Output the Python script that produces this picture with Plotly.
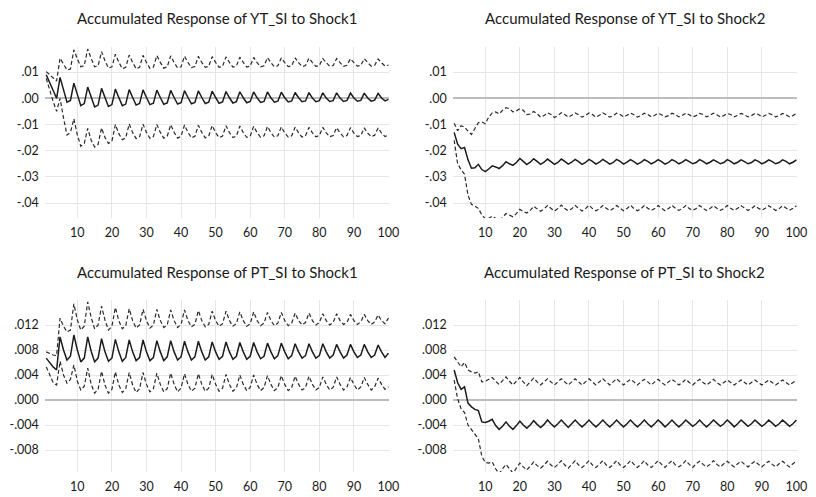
import plotly.graph_objects as go

# ---------------------------------------------------------------------------
# Accumulated impulse responses (point estimate and +/- 2 S.E. bands),
# horizons 1..100
# ---------------------------------------------------------------------------
periods = list(range(1, 101))
x_ticks = [10, 20, 30, 40, 50, 60, 70, 80, 90, 100]

top_tickvals = [0.01, 0.0, -0.01, -0.02, -0.03, -0.04]
top_ticktext = [".01", ".00", "-.01", "-.02", "-.03", "-.04"]
bot_tickvals = [0.012, 0.008, 0.004, 0.0, -0.004, -0.008]
bot_ticktext = [".012", ".008", ".004", ".000", "-.004", "-.008"]

titles = [
    "Accumulated Response of YT_SI to Shock1",
    "Accumulated Response of YT_SI to Shock2",
    "Accumulated Response of PT_SI to Shock1",
    "Accumulated Response of PT_SI to Shock2",
]

# YT_SI to Shock1
yt_s1_irf = [
    0.0090, 0.0062, 0.0030, 0.0000,
    0.0080, 0.0030, -0.0015, -0.0008,
    0.0058, 0.0015, -0.0028, -0.0020,
    0.0043, 0.0005, -0.0033, -0.0026,
    0.0038, 0.0003, -0.0031, -0.0024,
    0.0035, 0.0003, -0.0028, -0.0022,
    0.0033, 0.0003, -0.0026, -0.0020,
    0.0032, 0.0003, -0.0024, -0.0019,
    0.0031, 0.0003, -0.0023, -0.0018,
    0.0030, 0.0003, -0.0022, -0.0017,
    0.0029, 0.0003, -0.0021, -0.0016,
    0.0028, 0.0003, -0.0020, -0.0015,
    0.0027, 0.0003, -0.0019, -0.0014,
    0.0026, 0.0002, -0.0018, -0.0013,
    0.0025, 0.0002, -0.0017, -0.0012,
    0.0024, 0.0002, -0.0016, -0.0012,
    0.0024, 0.0002, -0.0015, -0.0011,
    0.0023, 0.0002, -0.0014, -0.0010,
    0.0022, 0.0002, -0.0013, -0.0010,
    0.0022, 0.0001, -0.0013, -0.0009,
    0.0021, 0.0001, -0.0012, -0.0009,
    0.0021, 0.0001, -0.0012, -0.0008,
    0.0020, 0.0001, -0.0011, -0.0008,
    0.0020, 0.0001, -0.0011, -0.0007,
    0.0019, 0.0001, -0.0010, -0.0004,
]
yt_s1_hi = [
    0.0102, 0.0090, 0.0077, 0.0066,
    0.0153, 0.0128, 0.0108, 0.0112,
    0.0185, 0.0150, 0.0120, 0.0125,
    0.0188, 0.0152, 0.0120, 0.0124,
    0.0178, 0.0143, 0.0115, 0.0120,
    0.0168, 0.0138, 0.0113, 0.0118,
    0.0165, 0.0137, 0.0113, 0.0118,
    0.0164, 0.0137, 0.0114, 0.0119,
    0.0163, 0.0137, 0.0115, 0.0120,
    0.0162, 0.0137, 0.0116, 0.0120,
    0.0161, 0.0137, 0.0117, 0.0121,
    0.0160, 0.0137, 0.0118, 0.0122,
    0.0159, 0.0137, 0.0118, 0.0122,
    0.0158, 0.0137, 0.0119, 0.0123,
    0.0157, 0.0137, 0.0119, 0.0123,
    0.0156, 0.0136, 0.0120, 0.0124,
    0.0155, 0.0136, 0.0120, 0.0124,
    0.0154, 0.0136, 0.0121, 0.0124,
    0.0154, 0.0136, 0.0121, 0.0125,
    0.0153, 0.0136, 0.0122, 0.0125,
    0.0152, 0.0136, 0.0122, 0.0125,
    0.0152, 0.0136, 0.0122, 0.0126,
    0.0151, 0.0136, 0.0123, 0.0126,
    0.0151, 0.0136, 0.0123, 0.0126,
    0.0150, 0.0136, 0.0123, 0.0127,
]
yt_s1_lo = [
    0.0076, 0.0030, -0.0012, -0.0050,
    0.0000, -0.0075, -0.0140, -0.0130,
    -0.0078, -0.0140, -0.0183, -0.0172,
    -0.0115, -0.0160, -0.0186, -0.0176,
    -0.0113, -0.0150, -0.0172, -0.0164,
    -0.0100, -0.0135, -0.0158, -0.0151,
    -0.0098, -0.0131, -0.0154, -0.0147,
    -0.0099, -0.0130, -0.0153, -0.0146,
    -0.0100, -0.0130, -0.0152, -0.0145,
    -0.0101, -0.0130, -0.0152, -0.0145,
    -0.0102, -0.0130, -0.0151, -0.0145,
    -0.0103, -0.0130, -0.0151, -0.0144,
    -0.0104, -0.0131, -0.0150, -0.0144,
    -0.0105, -0.0131, -0.0150, -0.0144,
    -0.0106, -0.0131, -0.0149, -0.0144,
    -0.0107, -0.0131, -0.0149, -0.0143,
    -0.0108, -0.0131, -0.0148, -0.0143,
    -0.0109, -0.0132, -0.0148, -0.0143,
    -0.0110, -0.0132, -0.0148, -0.0143,
    -0.0111, -0.0132, -0.0147, -0.0142,
    -0.0111, -0.0132, -0.0147, -0.0142,
    -0.0112, -0.0132, -0.0147, -0.0142,
    -0.0112, -0.0133, -0.0146, -0.0142,
    -0.0113, -0.0133, -0.0146, -0.0141,
    -0.0113, -0.0133, -0.0146, -0.0140,
]

# YT_SI to Shock2
yt_s2_irf = [
    -0.0130, -0.0175, -0.0192, -0.0188,
    -0.0235, -0.0267, -0.0265, -0.0252,
    -0.0272, -0.0280, -0.0270, -0.0258,
    -0.0262, -0.0268, -0.0257, -0.0242,
    -0.0250, -0.0256, -0.0245, -0.0230,
    -0.0241, -0.0253, -0.0244, -0.0231,
    -0.0241, -0.0252, -0.0244, -0.0232,
    -0.0242, -0.0252, -0.0245, -0.0232,
    -0.0241, -0.0251, -0.0244, -0.0233,
    -0.0242, -0.0252, -0.0245, -0.0233,
    -0.0241, -0.0251, -0.0244, -0.0233,
    -0.0242, -0.0251, -0.0245, -0.0233,
    -0.0241, -0.0251, -0.0244, -0.0234,
    -0.0242, -0.0251, -0.0245, -0.0234,
    -0.0241, -0.0250, -0.0244, -0.0234,
    -0.0242, -0.0251, -0.0245, -0.0234,
    -0.0241, -0.0250, -0.0244, -0.0234,
    -0.0242, -0.0250, -0.0245, -0.0234,
    -0.0241, -0.0250, -0.0244, -0.0235,
    -0.0242, -0.0250, -0.0245, -0.0234,
    -0.0241, -0.0250, -0.0244, -0.0235,
    -0.0242, -0.0250, -0.0245, -0.0235,
    -0.0241, -0.0250, -0.0244, -0.0235,
    -0.0242, -0.0250, -0.0245, -0.0235,
    -0.0241, -0.0250, -0.0244, -0.0235,
]
yt_s2_hi = [
    -0.0095, -0.0124, -0.0105, -0.0110,
    -0.0125, -0.0138, -0.0115, -0.0093,
    -0.0090, -0.0097, -0.0072, -0.0056,
    -0.0052, -0.0060, -0.0046, -0.0036,
    -0.0040, -0.0052, -0.0048, -0.0040,
    -0.0046, -0.0062, -0.0060, -0.0050,
    -0.0059, -0.0072, -0.0066, -0.0055,
    -0.0062, -0.0073, -0.0066, -0.0055,
    -0.0062, -0.0072, -0.0065, -0.0056,
    -0.0063, -0.0072, -0.0066, -0.0056,
    -0.0062, -0.0072, -0.0065, -0.0056,
    -0.0063, -0.0072, -0.0066, -0.0057,
    -0.0062, -0.0071, -0.0065, -0.0056,
    -0.0063, -0.0072, -0.0066, -0.0057,
    -0.0062, -0.0071, -0.0065, -0.0057,
    -0.0063, -0.0071, -0.0066, -0.0057,
    -0.0062, -0.0071, -0.0065, -0.0057,
    -0.0063, -0.0071, -0.0066, -0.0058,
    -0.0062, -0.0071, -0.0065, -0.0057,
    -0.0063, -0.0071, -0.0066, -0.0058,
    -0.0062, -0.0071, -0.0065, -0.0058,
    -0.0063, -0.0071, -0.0066, -0.0058,
    -0.0062, -0.0071, -0.0065, -0.0058,
    -0.0063, -0.0071, -0.0066, -0.0058,
    -0.0063, -0.0071, -0.0066, -0.0058,
]
yt_s2_lo = [
    -0.0160, -0.0250, -0.0272, -0.0290,
    -0.0370, -0.0405, -0.0412, -0.0420,
    -0.0445, -0.0460, -0.0458, -0.0450,
    -0.0458, -0.0466, -0.0455, -0.0440,
    -0.0446, -0.0452, -0.0440, -0.0424,
    -0.0432, -0.0438, -0.0428, -0.0412,
    -0.0422, -0.0431, -0.0422, -0.0409,
    -0.0420, -0.0430, -0.0421, -0.0408,
    -0.0421, -0.0429, -0.0422, -0.0409,
    -0.0420, -0.0430, -0.0421, -0.0408,
    -0.0421, -0.0429, -0.0422, -0.0409,
    -0.0420, -0.0429, -0.0421, -0.0409,
    -0.0420, -0.0429, -0.0421, -0.0408,
    -0.0421, -0.0429, -0.0422, -0.0409,
    -0.0420, -0.0428, -0.0421, -0.0409,
    -0.0420, -0.0429, -0.0421, -0.0409,
    -0.0420, -0.0428, -0.0421, -0.0409,
    -0.0421, -0.0428, -0.0421, -0.0409,
    -0.0420, -0.0428, -0.0421, -0.0410,
    -0.0420, -0.0428, -0.0421, -0.0409,
    -0.0420, -0.0428, -0.0420, -0.0410,
    -0.0419, -0.0428, -0.0421, -0.0410,
    -0.0420, -0.0427, -0.0420, -0.0410,
    -0.0419, -0.0428, -0.0421, -0.0410,
    -0.0419, -0.0427, -0.0420, -0.0410,
]

# PT_SI to Shock1
pt_s1_irf = [
    0.0067, 0.0060, 0.0053, 0.0048,
    0.0101, 0.0080, 0.0064, 0.0070,
    0.0104, 0.0080, 0.0061, 0.0067,
    0.0101, 0.0078, 0.0061, 0.0067,
    0.0098, 0.0077, 0.0062, 0.0067,
    0.0097, 0.0077, 0.0062, 0.0068,
    0.0096, 0.0077, 0.0063, 0.0068,
    0.0096, 0.0077, 0.0063, 0.0068,
    0.0095, 0.0077, 0.0063, 0.0069,
    0.0095, 0.0077, 0.0064, 0.0069,
    0.0094, 0.0077, 0.0064, 0.0069,
    0.0094, 0.0077, 0.0064, 0.0069,
    0.0093, 0.0077, 0.0065, 0.0070,
    0.0093, 0.0077, 0.0065, 0.0070,
    0.0092, 0.0077, 0.0065, 0.0070,
    0.0092, 0.0077, 0.0066, 0.0070,
    0.0091, 0.0077, 0.0066, 0.0071,
    0.0091, 0.0077, 0.0066, 0.0071,
    0.0090, 0.0077, 0.0067, 0.0071,
    0.0090, 0.0077, 0.0067, 0.0071,
    0.0090, 0.0077, 0.0067, 0.0072,
    0.0089, 0.0077, 0.0067, 0.0072,
    0.0089, 0.0077, 0.0068, 0.0072,
    0.0089, 0.0077, 0.0068, 0.0072,
    0.0088, 0.0077, 0.0068, 0.0075,
]
pt_s1_hi = [
    0.0077, 0.0074, 0.0072, 0.0071,
    0.0131, 0.0118, 0.0109, 0.0112,
    0.0154, 0.0128, 0.0112, 0.0118,
    0.0157, 0.0132, 0.0114, 0.0120,
    0.0150, 0.0128, 0.0112, 0.0118,
    0.0148, 0.0127, 0.0114, 0.0119,
    0.0146, 0.0127, 0.0115, 0.0120,
    0.0145, 0.0127, 0.0115, 0.0120,
    0.0145, 0.0127, 0.0116, 0.0120,
    0.0144, 0.0127, 0.0116, 0.0121,
    0.0144, 0.0127, 0.0117, 0.0121,
    0.0143, 0.0127, 0.0117, 0.0121,
    0.0142, 0.0127, 0.0118, 0.0122,
    0.0142, 0.0127, 0.0118, 0.0122,
    0.0141, 0.0127, 0.0118, 0.0122,
    0.0141, 0.0127, 0.0119, 0.0123,
    0.0140, 0.0127, 0.0119, 0.0123,
    0.0140, 0.0127, 0.0119, 0.0123,
    0.0139, 0.0127, 0.0120, 0.0124,
    0.0139, 0.0127, 0.0120, 0.0124,
    0.0138, 0.0127, 0.0120, 0.0124,
    0.0138, 0.0127, 0.0121, 0.0124,
    0.0137, 0.0127, 0.0121, 0.0125,
    0.0137, 0.0127, 0.0121, 0.0125,
    0.0136, 0.0127, 0.0122, 0.0131,
]
pt_s1_lo = [
    0.0053, 0.0040, 0.0028, 0.0024,
    0.0062, 0.0040, 0.0027, 0.0033,
    0.0056, 0.0030, 0.0016, 0.0022,
    0.0051, 0.0025, 0.0011, 0.0017,
    0.0046, 0.0024, 0.0011, 0.0017,
    0.0045, 0.0024, 0.0012, 0.0018,
    0.0044, 0.0024, 0.0012, 0.0018,
    0.0044, 0.0025, 0.0013, 0.0018,
    0.0043, 0.0025, 0.0013, 0.0018,
    0.0043, 0.0025, 0.0013, 0.0019,
    0.0042, 0.0025, 0.0014, 0.0019,
    0.0042, 0.0025, 0.0014, 0.0019,
    0.0041, 0.0025, 0.0014, 0.0019,
    0.0041, 0.0025, 0.0014, 0.0019,
    0.0040, 0.0025, 0.0015, 0.0020,
    0.0040, 0.0025, 0.0015, 0.0020,
    0.0039, 0.0025, 0.0015, 0.0020,
    0.0039, 0.0025, 0.0015, 0.0020,
    0.0038, 0.0025, 0.0016, 0.0020,
    0.0038, 0.0025, 0.0016, 0.0020,
    0.0037, 0.0025, 0.0016, 0.0020,
    0.0037, 0.0025, 0.0016, 0.0021,
    0.0036, 0.0025, 0.0016, 0.0021,
    0.0036, 0.0025, 0.0016, 0.0021,
    0.0035, 0.0025, 0.0017, 0.0021,
]

# PT_SI to Shock2
pt_s2_irf = [
    0.0048, 0.0028, 0.0017, 0.0021,
    -0.0005, -0.0011, -0.0015, -0.0017,
    -0.0035, -0.0036, -0.0034, -0.0031,
    -0.0041, -0.0047, -0.0042, -0.0035,
    -0.0042, -0.0047, -0.0041, -0.0034,
    -0.0040, -0.0045, -0.0040, -0.0033,
    -0.0039, -0.0044, -0.0039, -0.0032,
    -0.0038, -0.0043, -0.0038, -0.0032,
    -0.0038, -0.0044, -0.0038, -0.0032,
    -0.0038, -0.0043, -0.0038, -0.0032,
    -0.0038, -0.0043, -0.0038, -0.0032,
    -0.0038, -0.0043, -0.0038, -0.0032,
    -0.0038, -0.0043, -0.0038, -0.0032,
    -0.0038, -0.0043, -0.0038, -0.0032,
    -0.0038, -0.0043, -0.0038, -0.0032,
    -0.0037, -0.0043, -0.0038, -0.0032,
    -0.0038, -0.0043, -0.0038, -0.0032,
    -0.0037, -0.0042, -0.0038, -0.0032,
    -0.0038, -0.0043, -0.0038, -0.0032,
    -0.0037, -0.0042, -0.0038, -0.0032,
    -0.0037, -0.0043, -0.0038, -0.0032,
    -0.0037, -0.0042, -0.0038, -0.0032,
    -0.0037, -0.0042, -0.0038, -0.0032,
    -0.0037, -0.0042, -0.0038, -0.0032,
    -0.0037, -0.0042, -0.0038, -0.0032,
]
pt_s2_hi = [
    0.0069, 0.0061, 0.0053, 0.0060,
    0.0048, 0.0045, 0.0043, 0.0045,
    0.0029, 0.0030, 0.0033, 0.0036,
    0.0030, 0.0025, 0.0031, 0.0037,
    0.0030, 0.0024, 0.0030, 0.0036,
    0.0029, 0.0023, 0.0029, 0.0035,
    0.0029, 0.0024, 0.0029, 0.0034,
    0.0029, 0.0024, 0.0029, 0.0034,
    0.0029, 0.0024, 0.0029, 0.0034,
    0.0029, 0.0024, 0.0029, 0.0034,
    0.0029, 0.0024, 0.0029, 0.0034,
    0.0029, 0.0024, 0.0029, 0.0034,
    0.0029, 0.0024, 0.0029, 0.0033,
    0.0029, 0.0024, 0.0029, 0.0033,
    0.0029, 0.0024, 0.0029, 0.0033,
    0.0028, 0.0024, 0.0029, 0.0033,
    0.0029, 0.0024, 0.0028, 0.0033,
    0.0028, 0.0024, 0.0029, 0.0033,
    0.0028, 0.0024, 0.0028, 0.0033,
    0.0028, 0.0024, 0.0028, 0.0032,
    0.0028, 0.0024, 0.0028, 0.0032,
    0.0028, 0.0024, 0.0028, 0.0032,
    0.0028, 0.0024, 0.0028, 0.0032,
    0.0028, 0.0024, 0.0028, 0.0032,
    0.0028, 0.0024, 0.0028, 0.0031,
]
pt_s2_lo = [
    0.0032, 0.0002, -0.0014, -0.0020,
    -0.0040, -0.0048, -0.0055, -0.0062,
    -0.0090, -0.0100, -0.0101, -0.0099,
    -0.0110, -0.0118, -0.0110, -0.0103,
    -0.0110, -0.0117, -0.0109, -0.0101,
    -0.0107, -0.0112, -0.0106, -0.0099,
    -0.0105, -0.0109, -0.0104, -0.0098,
    -0.0104, -0.0108, -0.0103, -0.0097,
    -0.0104, -0.0109, -0.0103, -0.0097,
    -0.0104, -0.0108, -0.0103, -0.0097,
    -0.0104, -0.0108, -0.0103, -0.0097,
    -0.0104, -0.0108, -0.0103, -0.0097,
    -0.0104, -0.0108, -0.0103, -0.0097,
    -0.0103, -0.0108, -0.0103, -0.0097,
    -0.0104, -0.0108, -0.0103, -0.0097,
    -0.0103, -0.0108, -0.0102, -0.0097,
    -0.0104, -0.0107, -0.0103, -0.0097,
    -0.0103, -0.0108, -0.0102, -0.0098,
    -0.0103, -0.0107, -0.0103, -0.0097,
    -0.0103, -0.0107, -0.0102, -0.0098,
    -0.0103, -0.0107, -0.0102, -0.0098,
    -0.0103, -0.0107, -0.0102, -0.0098,
    -0.0103, -0.0107, -0.0102, -0.0098,
    -0.0103, -0.0107, -0.0102, -0.0098,
    -0.0103, -0.0107, -0.0102, -0.0098,
]

# ---------------------------------------------------------------------------
# Page geometry (pixels) and styling
# ---------------------------------------------------------------------------
W, H = 816, 497
FONT = "Lato, 'Open Sans', sans-serif"
TEXT = "#1a1a1a"
GRID = "#e6e6e6"
ZERO = "#bdbdbd"


def fx(p):
    return p / W


def fy(p):
    return 1 - p / H


# (left px, right px, top px, bottom px, y range, tickvals, ticktext)
panels = [
    (45.4, 394.0, 47, 218, [-0.04569, 0.01958], top_tickvals, top_ticktext),
    (458.4, 807.0, 47, 218, [-0.04569, 0.01958], top_tickvals, top_ticktext),
    (45.4, 394.0, 300, 472, [-0.01152, 0.0160], bot_tickvals, bot_ticktext),
    (458.4, 807.0, 300, 472, [-0.01152, 0.0160], bot_tickvals, bot_ticktext),
]
series = [
    (yt_s1_lo, yt_s1_irf, yt_s1_hi),
    (yt_s2_lo, yt_s2_irf, yt_s2_hi),
    (pt_s1_lo, pt_s1_irf, pt_s1_hi),
    (pt_s2_lo, pt_s2_irf, pt_s2_hi),
]
title_y = [18.5, 18.5, 272, 272]

fig = go.Figure()
layout = dict(
    width=W,
    height=H,
    margin=dict(l=0, r=0, t=0, b=0),
    paper_bgcolor="white",
    plot_bgcolor="white",
    showlegend=False,
    annotations=[],
)

for k, (panel, (lo, irf, hi)) in enumerate(zip(panels, series)):
    left, right, top, bottom, yrange, tv, tt = panel
    xa = "x" if k == 0 else f"x{k + 1}"
    ya = "y" if k == 0 else f"y{k + 1}"
    for vals, dash, width, color in (
        (hi, "4px,2.5px", 1.2, "#2a2a2a"),
        (lo, "4px,2.5px", 1.2, "#2a2a2a"),
        (irf, "solid", 1.5, "#1c1c1c"),
    ):
        fig.add_trace(go.Scatter(
            x=periods, y=vals, mode="lines", xaxis=xa, yaxis=ya,
            line=dict(color=color, width=width, dash=dash),
            hoverinfo="skip", cliponaxis=False,
        ))
    xkey = "xaxis" if k == 0 else f"xaxis{k + 1}"
    ykey = "yaxis" if k == 0 else f"yaxis{k + 1}"
    layout[xkey] = dict(
        domain=[fx(left), fx(right)], anchor=ya, range=[0.6, 100.2],
        tickvals=x_ticks, ticktext=[str(v) for v in x_ticks],
        showgrid=True, gridcolor=GRID, gridwidth=1,
        zeroline=False, showline=False, ticks="",
        tickfont=dict(family=FONT, size=12.5, color=TEXT),
        ticklabelstandoff=5, fixedrange=True,
    )
    layout[ykey] = dict(
        domain=[fy(bottom), fy(top)], anchor=xa, range=yrange,
        tickvals=tv, ticktext=tt,
        showgrid=True, gridcolor=GRID, gridwidth=1,
        zeroline=True, zerolinecolor=ZERO, zerolinewidth=1.5,
        showline=False, ticks="",
        tickfont=dict(family=FONT, size=12.5, color=TEXT),
        ticklabelstandoff=5, fixedrange=True,
    )
    layout["annotations"].append(dict(
        text=titles[k], xref="paper", yref="paper",
        x=fx((left + right) / 2), y=fy(title_y[k]),
        xanchor="center", yanchor="middle", showarrow=False,
        font=dict(family=FONT, size=15, color=TEXT),
    ))

fig.update_layout(**layout)
fig.write_html("out.html")
